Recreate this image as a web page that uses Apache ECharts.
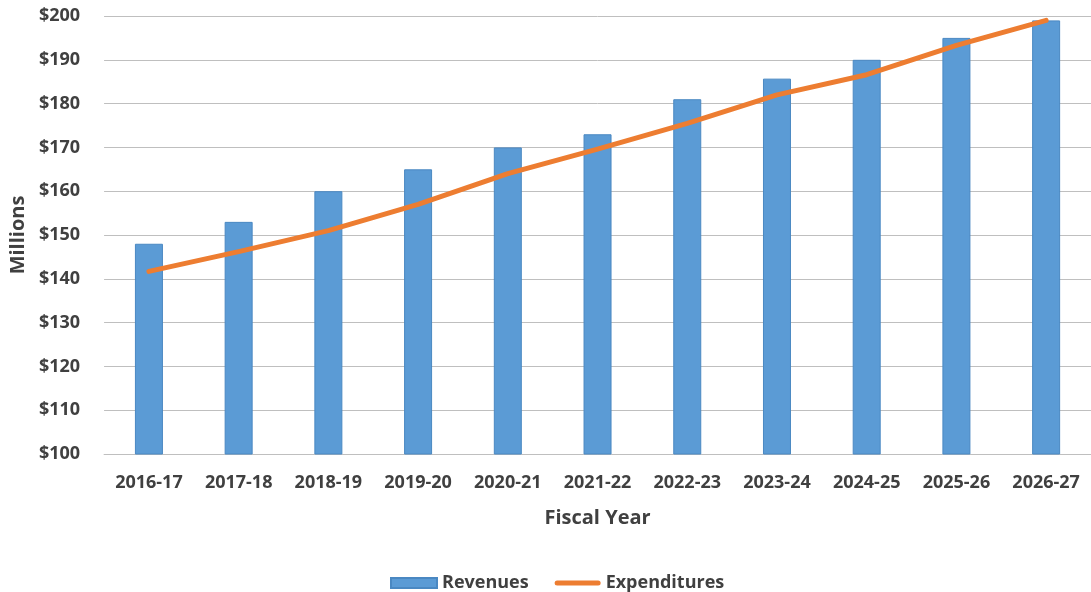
<!DOCTYPE html>
<html>
<head>
<meta charset="utf-8">
<title>Revenues and Expenditures by Fiscal Year</title>
<script src="https://cdn.jsdelivr.net/npm/echarts@6/dist/echarts.min.js"></script>
<style>
  html, body { margin: 0; padding: 0; background: #ffffff; }
  #chart { width: 1091px; height: 592px; }
</style>
</head>
<body>
<div id="chart"></div>
<script>
// Fiscal years on the category axis
const fiscalYears = ['2016-17', '2017-18', '2018-19', '2019-20', '2020-21', '2021-22',
                     '2022-23', '2023-24', '2024-25', '2025-26', '2026-27'];
// Values in millions of dollars
const revenues     = [148, 153, 160, 165, 170, 173, 181, 185.7, 190, 195, 199];
const expenditures = [141.7, 146.2, 151, 157, 164, 169.6, 175.5, 182, 186.6, 193.3, 199];
// Value axis range
const yMin = 100, yMax = 200, yStep = 10;

const textColor = '#404040';
const fontFamily = '"Open Sans", "Noto Sans", sans-serif';

// Thin rounded stroke for the line series' legend key; the outer moveTo
// points keep the icon box at full size so the stroke is not stretched.
const lineKey = 'path://M0,0M2.5,2.5h41a2.5,2.5 0 0 1 0,5h-41a2.5,2.5 0 0 1 0,-5zM46,10';

const chart = echarts.init(document.getElementById('chart'), null, { renderer: 'canvas' });
chart.setOption({
  animation: false,
  backgroundColor: '#ffffff',
  textStyle: { fontFamily: fontFamily },
  grid: { left: 103, top: 16, width: 990, height: 438, containLabel: false },
  legend: {
    left: 385,
    top: 569,
    itemWidth: 46,
    itemHeight: 10,
    itemGap: 26,
    textStyle: { color: textColor, fontSize: 18, fontWeight: 'bold', fontFamily: fontFamily },
    data: [
      { name: 'Revenues', icon: 'rect' },
      { name: 'Expenditures', icon: lineKey, itemStyle: { color: '#ed7d31', borderWidth: 0 } }
    ]
  },
  xAxis: {
    type: 'category',
    data: fiscalYears,
    name: 'Fiscal Year',
    nameLocation: 'middle',
    nameGap: 54,
    nameTextStyle: { color: textColor, fontSize: 20, fontWeight: 'bold', fontFamily: fontFamily },
    axisLine: { lineStyle: { color: '#bfbfbf', width: 1 } },
    axisTick: { show: false },
    axisLabel: { color: textColor, fontSize: 18, fontWeight: 'bold', margin: 20, fontFamily: fontFamily }
  },
  yAxis: {
    type: 'value',
    min: yMin,
    max: yMax,
    interval: yStep,
    name: 'Millions',
    nameLocation: 'middle',
    nameGap: 73,
    nameRotate: 90,
    nameTextStyle: { color: textColor, fontSize: 20, fontWeight: 'bold', fontFamily: fontFamily },
    axisLine: { show: false },
    axisTick: { show: false },
    axisLabel: {
      color: textColor, fontSize: 18, fontWeight: 'bold', margin: 24, fontFamily: fontFamily,
      formatter: v => '$' + v
    },
    splitLine: { lineStyle: { color: '#bfbfbf', width: 1 } }
  },
  series: [
    {
      name: 'Revenues',
      type: 'bar',
      data: revenues,
      barWidth: 28,
      itemStyle: { color: '#5b9bd5', borderColor: '#4a88c2', borderWidth: 1 }
    },
    {
      name: 'Expenditures',
      type: 'line',
      data: expenditures,
      symbol: 'none',
      lineStyle: { color: '#ed7d31', width: 5, cap: 'round', join: 'round' },
      itemStyle: { color: '#ed7d31' }
    }
  ]
});
</script>
</body>
</html>
